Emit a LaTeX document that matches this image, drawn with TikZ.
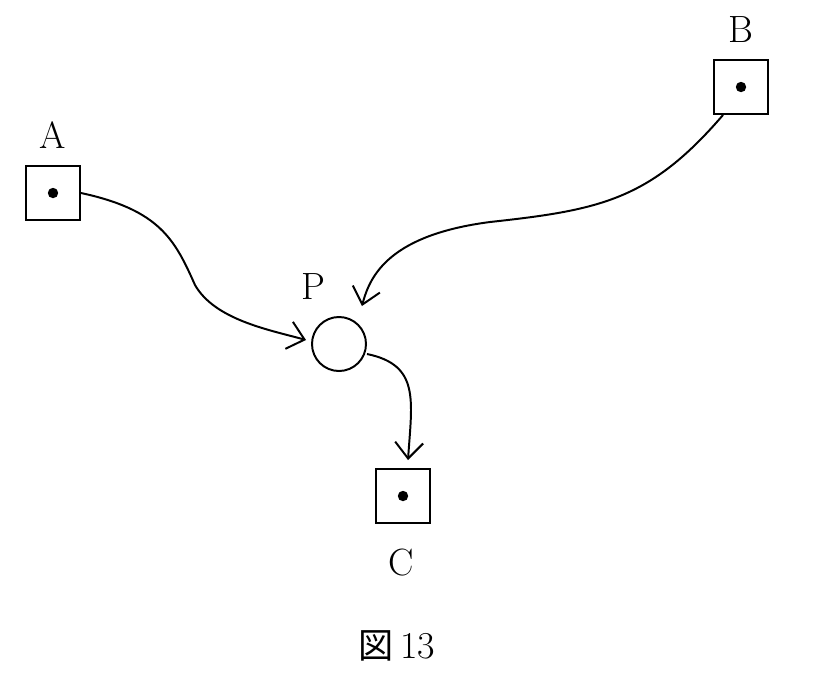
\documentclass[tikz,border=0pt]{standalone}
\usepackage{fontspec}
\newfontfamily\cjk{Noto Sans CJK JP}
\usetikzlibrary{arrows.meta,positioning}
\tikzset{
  site/.style={rectangle,draw,line width=1.4pt,minimum size=1.35cm,inner sep=0pt},
  lbl/.style={font=\fontsize{27}{30}\selectfont},
  flow/.style={line width=1.4pt,-{Straight Barb[length=4mm,width=7mm]}}
}
\begin{document}
\begin{tikzpicture}[x=0.025cm,y=-0.025cm]
    \useasboundingbox (0,0) rectangle (816,680);
    % sites
    \node[site] (A) at (53,193) {};
    \node[site] (B) at (741,87) {};
    \node[site] (C) at (403,496) {};
    \foreach \s in {A,B,C} \fill (\s) circle (0.13cm);
    \node[circle,draw,line width=1.4pt,minimum size=1.35cm,inner sep=0pt] (P) at (339,344) {};
    % labels
    \node[lbl] (la) at (53,135) {A};
    \node[lbl] (lb) at (741,30) {B};
    \node[lbl] (lp) at (313,287) {P};
    \node[lbl] (lc) at (401,563) {C};
    \node[lbl] (cap) at (397,646) {{\cjk\fontsize{25}{30}\selectfont 図}\,13};
    % paths
    \coordinate (ta) at (306,340);
    \coordinate (tb) at (362,306);
    \coordinate (tc) at (408,460);
    \draw[flow] (A.east) .. controls (160,210) and (175,240) .. (195,285)
        .. controls (215,320) and (270,330) .. (ta);
    \draw[flow] (B.south) ++(-18,0) .. controls (650,200) and (600,210) .. (490,222)
        .. controls (390,235) and (370,275) .. (tb);
    \draw[flow] (P.east) ++(0,10) .. controls (420,365) and (412,400) .. (tc);
\end{tikzpicture}
\end{document}
